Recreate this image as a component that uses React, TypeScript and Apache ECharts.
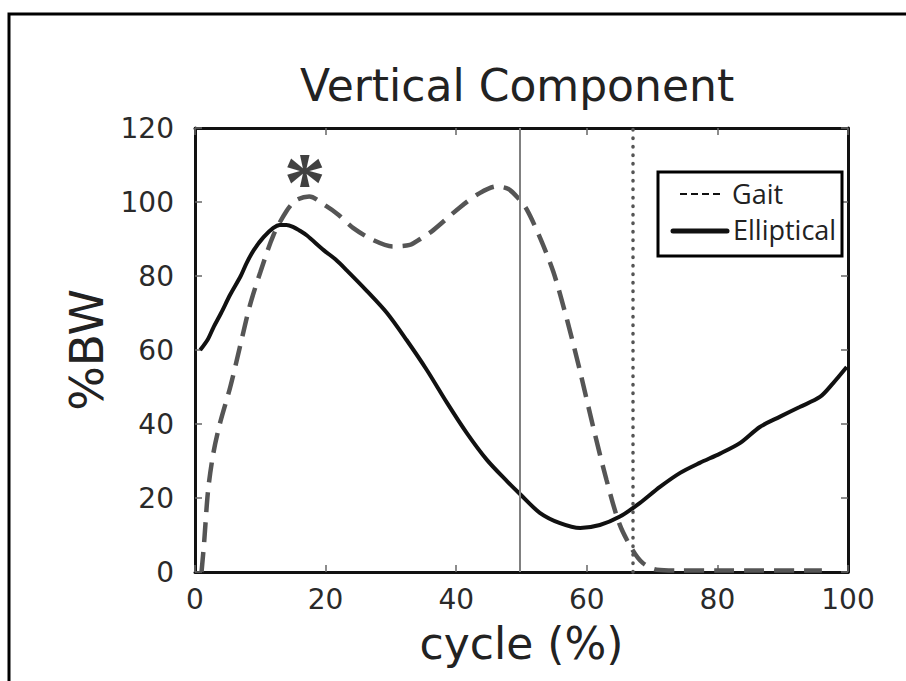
import React, { useEffect, useRef } from "react";
import * as echarts from "echarts";

const titleText = "Vertical Component";
const xName = "cycle (%)";
const yName = "%BW";
const legendNames = ["Gait", "Elliptical"];

const gaitData: number[][] = [
  [1.0, 0], [1.4, 8], [2.0, 22], [2.8, 32], [3.8, 40], [5.4, 50], [6.9, 61],
  [8.4, 72], [10.0, 81], [12.0, 91], [14.0, 97.5], [15.5, 100.5], [17.5, 101.5],
  [20.0, 99], [22.0, 96.5], [24.2, 93], [27.3, 89.7], [30.3, 88], [32.9, 88.4],
  [34.5, 90], [36.5, 92.4], [40.6, 98.6], [43.6, 102.4], [46.2, 104.2], [48.0, 103.5],
  [49.5, 101], [50.8, 98], [52.8, 90.5], [54.9, 81], [57.0, 68], [59.0, 54],
  [61.0, 39], [63.0, 25], [65.0, 13], [67.0, 6], [68.6, 2.4], [70.7, 0.6],
  [74.0, 0.4], [80.0, 0.4], [86.0, 0.4], [92.0, 0.4], [96.0, 0.4]
];

const ellipticalData: number[][] = [
  [0.8, 60], [2.0, 63], [2.8, 66], [4.0, 70], [5.4, 75], [7.0, 80], [7.9, 83.5],
  [9.0, 87], [10.5, 90.5], [12.0, 93], [13.0, 93.8], [14.0, 93.8], [15.0, 93.3],
  [16.0, 92.3], [17.1, 91], [19.7, 87], [21.5, 84.5], [23.2, 81.6], [26.3, 76],
  [29.4, 70], [32.4, 62.7], [35.5, 54.6], [38.6, 45.7], [41.6, 37.6], [44.7, 30.3],
  [47.8, 24.5], [49.8, 21], [52.8, 16], [55.9, 13.2], [59.0, 11.9], [62.0, 12.7],
  [65.0, 14.9], [68.1, 18.6], [71.2, 23], [74.3, 26.8], [77.3, 29.5], [80.4, 32],
  [83.5, 34.9], [86.5, 39.2], [89.6, 42], [92.6, 44.6], [95.7, 47.3], [97.7, 51],
  [99.8, 55.4]
];

const stanceLineX = 49.7;
const toeOffX = 67;
const asteriskPoint: number[] = [16.8, 108.3];

export default function App() {
  const ref = useRef<HTMLDivElement>(null);
  useEffect(() => {
    if (!ref.current) return;
    const chart = echarts.init(ref.current, null, { renderer: "svg" });
    const labelFont = { fontFamily: "DejaVu Sans", fontSize: 28, color: "#2a2a2a" };
    const frameLine = { show: true, onZero: false, lineStyle: { color: "#111", width: 3 } };
    const inTick = { show: true, inside: true, length: 7, lineStyle: { color: "#666", width: 1.5 } };
    chart.setOption({
      animation: false,
      backgroundColor: "#fff",
      title: {
        text: titleText,
        left: 300,
        top: 63,
        padding: 0,
        textStyle: { fontFamily: "DejaVu Sans", fontSize: 44, fontWeight: "normal", color: "#222" },
      },
      grid: { left: 195, top: 128, right: 58, bottom: 109 },
      xAxis: [
        {
          type: "value", min: 0, max: 100, interval: 20, position: "bottom",
          axisLine: frameLine, axisTick: inTick, splitLine: { show: false },
          axisLabel: { ...labelFont, margin: 13 },
          name: xName, nameLocation: "middle", nameGap: 49,
          nameTextStyle: { fontFamily: "DejaVu Sans", fontSize: 44, color: "#222" },
        },
        {
          type: "value", min: 0, max: 100, interval: 20, position: "top",
          axisLine: frameLine, axisTick: inTick, splitLine: { show: false },
          axisLabel: { show: false },
        },
      ],
      yAxis: [
        {
          type: "value", min: 0, max: 120, interval: 20, position: "left",
          axisLine: frameLine, axisTick: inTick, splitLine: { show: false },
          axisLabel: { ...labelFont, margin: 21 },
          name: yName, nameLocation: "middle", nameGap: 82, nameRotate: 90,
          nameTextStyle: { fontFamily: "DejaVu Sans", fontSize: 47, color: "#222" },
        },
        {
          type: "value", min: 0, max: 120, interval: 20, position: "right",
          axisLine: frameLine, axisTick: inTick, splitLine: { show: false },
          axisLabel: { show: false },
        },
      ],
      series: [
        {
          name: legendNames[0], type: "line", data: gaitData, showSymbol: false, smooth: 0.3,
          lineStyle: { color: "#555", width: 4.5, type: [20, 10] },
          z: 3,
          markLine: {
            silent: true, symbol: "none", label: { show: false },
            data: [
              { xAxis: stanceLineX, lineStyle: { color: "#808080", width: 2, type: "solid" } },
              { xAxis: toeOffX, lineStyle: { color: "#555", width: 3.5, type: [0.5, 8], cap: "round" } },
            ],
          },
        },
        {
          name: legendNames[1], type: "line", data: ellipticalData, showSymbol: false, smooth: 0.3,
          lineStyle: { color: "#111", width: 4 }, z: 4,
        },
        {
          name: "asterisk", type: "scatter", data: [asteriskPoint], symbolSize: 0, silent: true,
          label: {
            show: true, position: "inside", formatter: "*", offset: [0, 11],
            fontFamily: "Liberation Serif", fontWeight: "bold", fontSize: 84, color: "#111",
          },
        },
      ],
      graphic: [
        { type: "polyline", shape: { points: [[906, 14], [9, 14], [9, 681]] }, style: { stroke: "#000", lineWidth: 3, fill: null } },
        { type: "rect", shape: { x: 658, y: 172, width: 184, height: 84 }, style: { fill: "#fff", stroke: "#000", lineWidth: 3 }, z: 10 },
        { type: "line", shape: { x1: 680, y1: 194, x2: 722, y2: 194 }, style: { stroke: "#111", lineWidth: 2, lineDash: [7, 4] }, z: 11 },
        { type: "text", x: 732, y: 193, style: { text: legendNames[0], font: "27px 'Open Sans'", fill: "#222", verticalAlign: "middle", align: "left" }, z: 11 },
        { type: "line", shape: { x1: 673, y1: 231, x2: 727, y2: 231 }, style: { stroke: "#111", lineWidth: 5, lineCap: "round" }, z: 11 },
        { type: "text", x: 733, y: 229, style: { text: legendNames[1], font: "27px 'Open Sans'", fill: "#222", verticalAlign: "middle", align: "left" }, z: 11 },
      ],
    });
    return () => chart.dispose();
  }, []);
  return <div ref={ref} style={{ position: "fixed", left: 0, top: 0, width: 906, height: 681 }} />;
}
